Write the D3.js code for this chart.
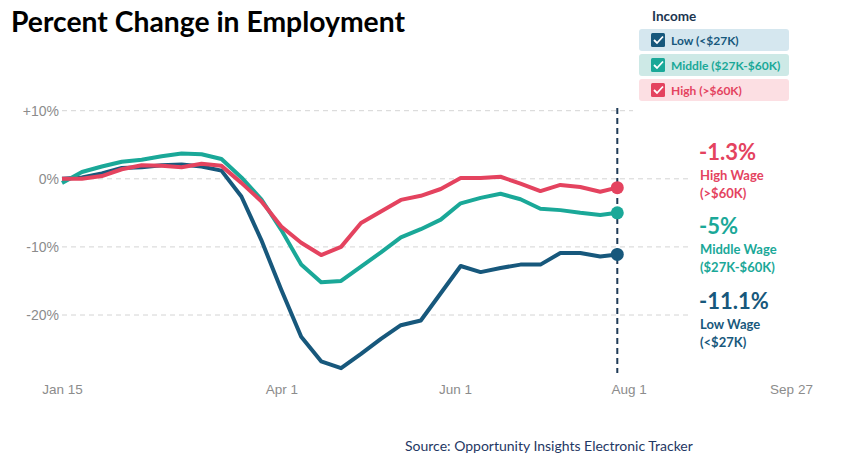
<!DOCTYPE html>
<html><head><meta charset="utf-8">
<script src="https://cdn.jsdelivr.net/npm/d3@7"></script>
<style>
html,body{margin:0;padding:0;background:#fff;}
svg{display:block;}
</style></head>
<body>
<svg id="chart" width="846" height="466"></svg>
<script>
// ---- data ----
const dates = ["2020-01-15","2020-01-22","2020-01-29","2020-02-05","2020-02-12","2020-02-19","2020-02-26",
  "2020-03-04","2020-03-11","2020-03-18","2020-03-25","2020-04-01","2020-04-08","2020-04-15","2020-04-22",
  "2020-04-29","2020-05-06","2020-05-13","2020-05-20","2020-05-27","2020-06-03","2020-06-10","2020-06-17",
  "2020-06-24","2020-07-01","2020-07-08","2020-07-15","2020-07-22","2020-07-28"];
const lowWage = [0,0.2,0.8,1.6,1.7,2.0,2.1,1.8,1.2,-2.6,-9.0,-16.3,-23.2,-26.8,-27.8,-25.7,-23.5,-21.5,-20.8,
  -16.8,-12.8,-13.7,-13.1,-12.6,-12.6,-10.9,-10.9,-11.4,-11.1];
const middleWage = [-0.6,1.0,1.8,2.5,2.8,3.3,3.7,3.6,2.9,0.2,-3.0,-7.5,-12.6,-15.2,-15.0,-12.9,-10.8,-8.6,-7.4,
  -6.0,-3.6,-2.8,-2.2,-3.0,-4.4,-4.6,-5.0,-5.3,-5.0];
const highWage = [0,0,0.4,1.4,2.0,1.9,1.7,2.2,1.9,-0.6,-3.3,-7.0,-9.4,-11.2,-10.0,-6.5,-4.8,-3.1,-2.5,
  -1.5,0.1,0.1,0.3,-0.7,-1.8,-0.9,-1.2,-1.9,-1.3];
const seriesNames = ["Low (<$27K)","Middle ($27K-$60K)","High (>$60K)"];
const seriesColors = ["#17587c","#1aa898","#e4435f"];
const legendBg = ["#d5e7ef","#cde9e6","#fcdfe3"];
const finalLabels = ["-11.1%","-5%","-1.3%"];
const wageNames = ["Low Wage","Middle Wage","High Wage"];
const wageRanges = ["(<$27K)","($27K-$60K)","(>$60K)"];
const yTicks = [10,0,-10,-20];
const xTickDates = ["2020-01-15","2020-04-01","2020-06-01","2020-08-01","2020-09-27"];

// ---- setup ----
const parse = d3.timeParse("%Y-%m-%d");
const svg = d3.select("#chart");
const x = d3.scaleTime().domain([parse("2020-01-15"), parse("2020-09-27")]).range([62, 791]);
const y = d3.scaleLinear().domain([10, -20]).range([110.7, 315]);
const allSeries = [lowWage, middleWage, highWage];

// title
svg.append("text").attr("x", 11).attr("y", 32)
  .attr("font-family", "Lato, 'Open Sans', sans-serif").attr("font-weight", 700)
  .attr("font-size", 28.3).attr("fill", "#000").text("Percent Change in Employment");

// gridlines
svg.append("g").selectAll("line").data(yTicks).join("line")
  .attr("x1", 62).attr("x2", d => d === 10 ? 633 : 688)
  .attr("y1", d => y(d)).attr("y2", d => y(d))
  .attr("stroke", "#d4d4d4").attr("stroke-width", 1).attr("stroke-dasharray", "5,4");

// y axis labels
const yAxis = d3.axisLeft(y).tickValues(yTicks).tickSize(0)
  .tickFormat(d => (d > 0 ? "+" : "") + d + "%");
const gy = svg.append("g").attr("transform", "translate(62,0)").call(yAxis);
gy.select(".domain").remove();
gy.selectAll("text").attr("x", -3).attr("dy", "0.35em")
  .attr("font-family", "'Liberation Sans', Arial, sans-serif").attr("font-size", 14).attr("fill", "#8c8c8c");

// x axis labels
const xAxis = d3.axisBottom(x).tickValues(xTickDates.map(parse)).tickSize(0)
  .tickFormat(d3.timeFormat("%b %-d"));
const gx = svg.append("g").attr("transform", "translate(0,378)").call(xAxis);
gx.select(".domain").remove();
gx.selectAll("text").attr("dy", "0.95em")
  .attr("font-family", "'Liberation Sans', Arial, sans-serif").attr("font-size", 13.5).attr("fill", "#8c8c8c");

// vertical dashed marker at last date
const lastDate = parse(dates[dates.length - 1]);
svg.append("line").attr("x1", x(lastDate)).attr("x2", x(lastDate)).attr("y1", 108).attr("y2", 373)
  .attr("stroke", "#1f3b57").attr("stroke-width", 2).attr("stroke-dasharray", "6,4");

// lines
const line = d3.line().x((d, i) => x(parse(dates[i]))).y(d => y(d));
svg.append("g").selectAll("path").data(allSeries).join("path")
  .attr("d", d => line(d)).attr("fill", "none")
  .attr("stroke", (d, i) => seriesColors[i]).attr("stroke-width", 4)
  .attr("stroke-linejoin", "round").attr("stroke-linecap", "butt");

// end dots
svg.append("g").selectAll("circle").data(allSeries).join("circle")
  .attr("cx", x(lastDate)).attr("cy", d => y(d[d.length - 1])).attr("r", 6.5)
  .attr("fill", (d, i) => seriesColors[i]);

// right annotations
const annY = [309, 234, 160]; // baselines of big value
const ann = svg.append("g").attr("font-family", "Lato, 'Open Sans', sans-serif").attr("font-weight", 700);
[0,1,2].forEach(i => {
  const c = seriesColors[i];
  ann.append("text").attr("x", 699).attr("y", annY[i]).attr("font-size", 22).attr("fill", c).text(finalLabels[i]);
  ann.append("text").attr("x", 700).attr("y", annY[i] + 20).attr("font-size", 13).attr("fill", c).text(wageNames[i]);
  ann.append("text").attr("x", 700).attr("y", annY[i] + 38).attr("font-size", 13).attr("fill", c).text(wageRanges[i]);
});

// legend
const lg = svg.append("g").attr("font-family", "Lato, 'Open Sans', sans-serif").attr("font-weight", 700);
lg.append("text").attr("x", 652).attr("y", 20.5).attr("font-size", 13.5).attr("fill", "#1c3550").text("Income");
seriesNames.forEach((name, i) => {
  const top = 29 + i * 25;
  lg.append("rect").attr("x", 639).attr("y", top).attr("width", 150).attr("height", 22).attr("rx", 3)
    .attr("fill", legendBg[i]);
  lg.append("rect").attr("x", 651).attr("y", top + 4).attr("width", 14).attr("height", 14).attr("rx", 1.5)
    .attr("fill", seriesColors[i]);
  lg.append("path").attr("d", `M${654},${top + 11} l3,3 l6,-6.5`).attr("fill", "none")
    .attr("stroke", "#fff").attr("stroke-width", 1.8);
  lg.append("text").attr("x", 671).attr("y", top + 16).attr("font-size", 12).attr("fill", seriesColors[i]).text(name);
});

// source
svg.append("text").attr("x", 405).attr("y", 451)
  .attr("font-family", "Lato, 'Open Sans', sans-serif").attr("font-size", 14).attr("fill", "#1f3864")
  .text("Source: Opportunity Insights Electronic Tracker");
</script>
</body></html>
